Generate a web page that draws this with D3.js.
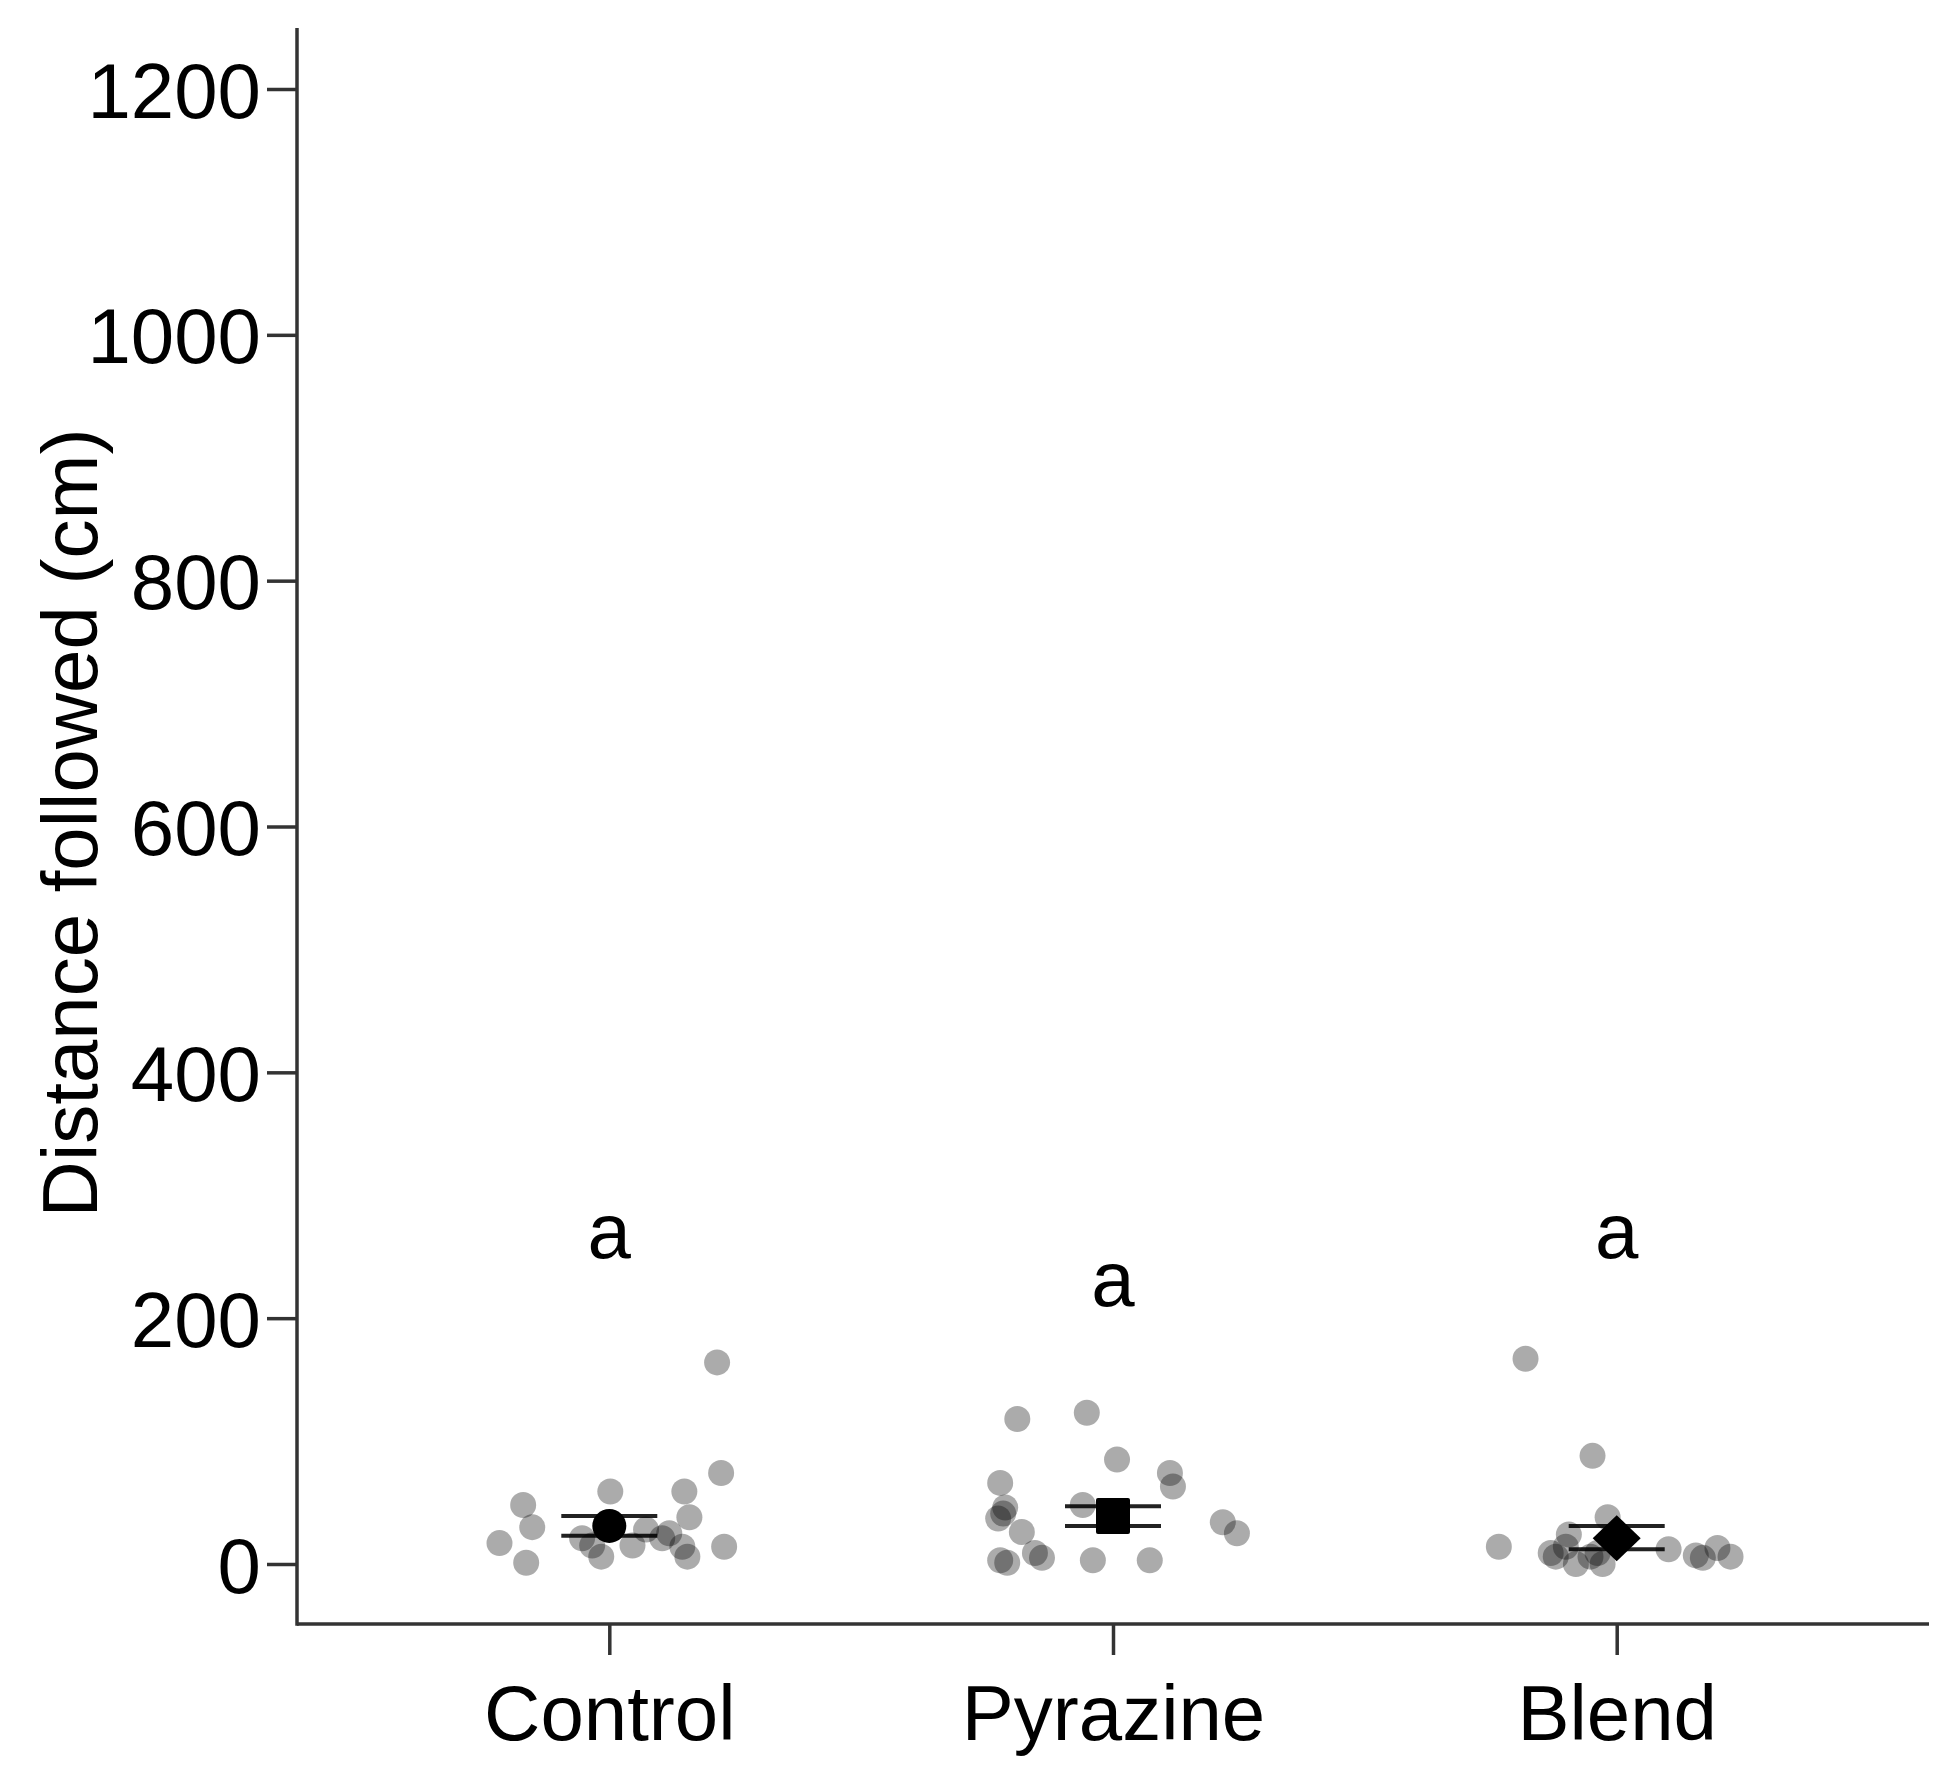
<!DOCTYPE html>
<html>
<head>
<meta charset="utf-8">
<script src="https://cdn.jsdelivr.net/npm/d3@7"></script>
<style>
  html, body { margin: 0; padding: 0; background: #fff; }
  svg { display: block; font-family: "Liberation Sans", Arial, sans-serif; }
</style>
</head>
<body>
<svg id="chart" width="1958" height="1790"></svg>
<script>
// ---------- data ----------
const categories = ["Control", "Pyrazine", "Blend"];
const yTicks = [0, 200, 400, 600, 800, 1000, 1200];
const yLabel = "Distance followed (cm)";

// group means and SE bounds
const means = [31, 39, 21];
const seUpper = [39, 47, 31];
const seLower = [23, 31, 12];
const meanShapes = ["circle", "square", "diamond"];

// significance letters and their heights (cm)
const letters = ["a", "a", "a"];
const letterValues = [249, 210, 249];

// raw observations (cm) and their horizontal jitter (fraction of category step)
const controlValues = [164, 74, 48, 59, 59, 30, 38, 17, 1, 14, 6, 15, 15, 28, 25, 14, 6, 21, 21];
const controlJitter = [0.214, 0.222, -0.171, 0.002, 0.149, -0.153, 0.159, -0.218, -0.165, 0.228, -0.016, -0.034, 0.046, 0.073, 0.119, 0.145, 0.155, -0.054, 0.105];

const pyrazineValues = [118, 123, 85, 66, 74, 63, 46, 37, 41, 48, 26, 9, 5, 3, 1, 3, 3, 34, 25];
const pyrazineJitter = [-0.190, -0.052, 0.008, -0.224, 0.113, 0.119, -0.214, -0.228, -0.218, -0.060, -0.181, -0.155, -0.141, -0.224, -0.210, -0.040, 0.073, 0.218, 0.246];

const blendValues = [167, 88, 14, 38, 24, 6, 9, 0, 6, 9, 0, 12, 7, 5, 13, 6, 14];
const blendJitter = [-0.181, -0.048, -0.234, -0.018, -0.095, -0.121, -0.131, -0.081, -0.052, -0.038, -0.028, 0.103, 0.157, 0.171, 0.200, 0.226, -0.101];

const rawValues = [controlValues, pyrazineValues, blendValues];
const rawJitter = [controlJitter, pyrazineJitter, blendJitter];

// ---------- layout ----------
const svg = d3.select("#chart");
const W = 1958, H = 1790;
const axisX = 297, axisY = 1624, axisTop = 28, axisRight = 1929;
const fontSize = 78;
const axisColor = "#333";
const axisWidth = 3.5;

svg.append("rect").attr("width", W).attr("height", H).attr("fill", "#fff");

const y = d3.scaleLinear().domain([0, 1200]).range([1564, 89]);
const x = d3.scalePoint().domain(categories).range([axisX, axisRight]).padding(0.62);
const step = x.step();

// axes lines
svg.append("line").attr("x1", axisX).attr("x2", axisX).attr("y1", axisTop).attr("y2", axisY + axisWidth / 2)
  .attr("stroke", axisColor).attr("stroke-width", axisWidth);
svg.append("line").attr("x1", axisX).attr("x2", axisRight).attr("y1", axisY).attr("y2", axisY)
  .attr("stroke", axisColor).attr("stroke-width", axisWidth);

// y axis ticks
const gy = svg.append("g").attr("transform", `translate(${axisX},0)`)
  .call(d3.axisLeft(y).tickValues(yTicks).tickSize(30).tickPadding(6).tickFormat(d3.format("d")));
gy.select(".domain").remove();
gy.selectAll(".tick line").attr("stroke", axisColor).attr("stroke-width", axisWidth);
gy.selectAll(".tick text").attr("font-size", fontSize).attr("fill", "#000")
  .attr("font-family", "'Liberation Sans', Arial, sans-serif").attr("dy", "0.36em");

// x axis ticks
const gx = svg.append("g").attr("transform", `translate(0,${axisY})`)
  .call(d3.axisBottom(x).tickSize(31).tickPadding(0));
gx.select(".domain").remove();
gx.selectAll(".tick line").attr("stroke", axisColor).attr("stroke-width", axisWidth);
gx.selectAll(".tick text").attr("font-size", fontSize).attr("fill", "#000")
  .attr("font-family", "'Liberation Sans', Arial, sans-serif")
  .attr("y", 1740 - axisY).attr("dy", 0);

// y axis title
svg.append("text")
  .attr("transform", `translate(97,823) rotate(-90)`)
  .attr("text-anchor", "middle")
  .attr("font-size", fontSize)
  .attr("fill", "#000")
  .text(yLabel);

// significance letters
svg.selectAll("text.letter").data(categories).join("text")
  .attr("class", "letter")
  .attr("x", d => x(d))
  .attr("y", (d, i) => y(letterValues[i]))
  .attr("text-anchor", "middle")
  .attr("font-size", fontSize)
  .attr("fill", "#000")
  .text((d, i) => letters[i]);

// error bars
const capHalf = 48;
const eb = svg.append("g");
categories.forEach((c, i) => {
  const cx = x(c);
  eb.append("line").attr("x1", cx).attr("x2", cx).attr("y1", y(seUpper[i])).attr("y2", y(seLower[i]))
    .attr("stroke", "#222").attr("stroke-width", 3.5);
  [seUpper[i], seLower[i]].forEach(v => {
    eb.append("line").attr("x1", cx - capHalf).attr("x2", cx + capHalf)
      .attr("y1", y(v)).attr("y2", y(v))
      .attr("stroke", "#222").attr("stroke-width", 4);
  });
});

// raw points
const pts = [];
categories.forEach((c, i) => {
  rawValues[i].forEach((v, j) => pts.push({ c, v, j: rawJitter[i][j] }));
});
svg.append("g").selectAll("circle").data(pts).join("circle")
  .attr("cx", d => x(d.c) + d.j * step)
  .attr("cy", d => y(d.v))
  .attr("r", 13)
  .attr("fill", "#000")
  .attr("fill-opacity", 0.33);

// mean markers
const mg = svg.append("g");
categories.forEach((c, i) => {
  const cx = x(c), cy = y(means[i]);
  if (meanShapes[i] === "circle") {
    mg.append("circle").attr("cx", cx).attr("cy", cy).attr("r", 17).attr("fill", "#000");
  } else if (meanShapes[i] === "square") {
    mg.append("rect").attr("x", cx - 17).attr("y", cy - 18).attr("width", 34).attr("height", 36)
      .attr("rx", 2).attr("fill", "#000");
  } else {
    mg.append("path").attr("d", `M${cx},${cy - 23} L${cx + 24},${cy} L${cx},${cy + 23} L${cx - 24},${cy} Z`)
      .attr("fill", "#000");
  }
});
</script>
</body>
</html>
